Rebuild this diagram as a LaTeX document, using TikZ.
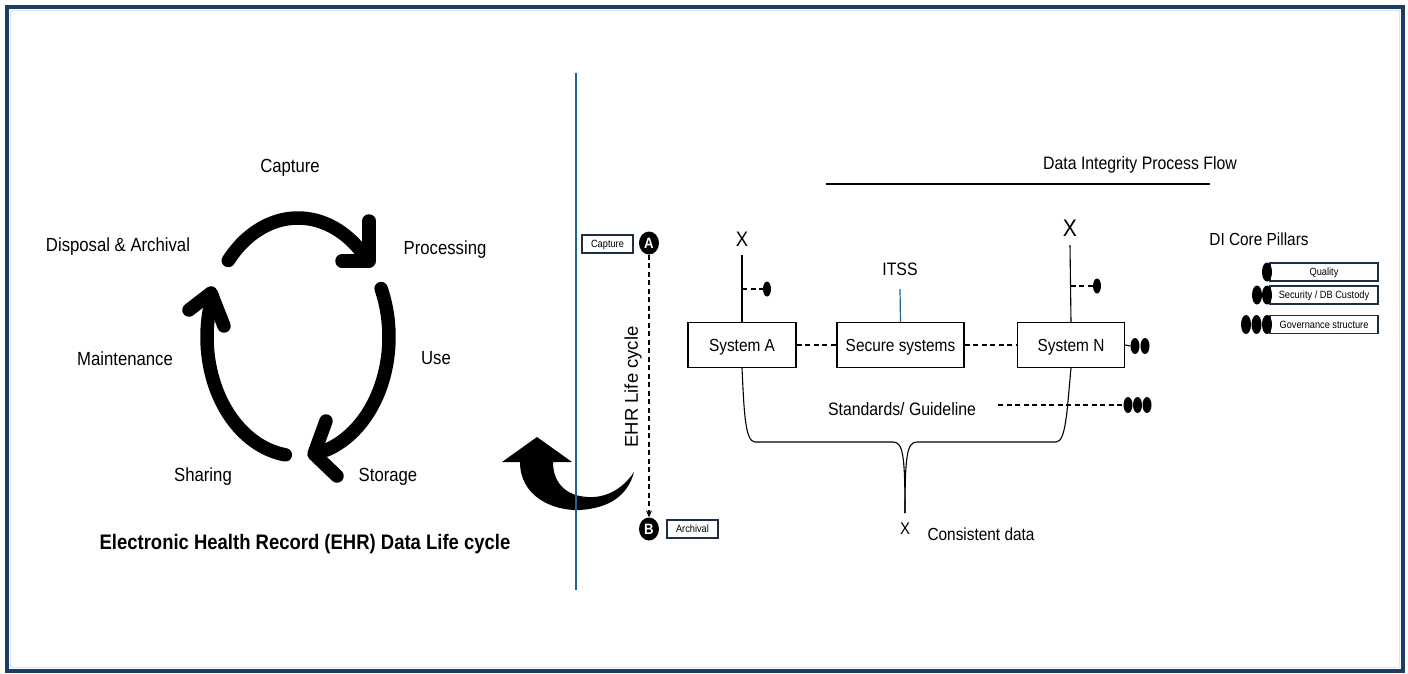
\documentclass[tikz,border=0pt]{standalone}
\usepackage{fontspec}
\setmainfont{Liberation Sans}[FakeStretch=0.88]
\newfontfamily\widefont{Liberation Sans}
\usetikzlibrary{arrows.meta,shapes.geometric}
\definecolor{framecol}{HTML}{1B3E66}
\definecolor{rulecol}{HTML}{21638F}
\definecolor{tagcol}{HTML}{1E2F45}
\newcommand\fsz[1]{\fontsize{#1}{#1}\selectfont}

\begin{document}
\begin{tikzpicture}[x=1pt,y=-1pt,
  lbl/.style={inner sep=0pt, yshift=-2.5pt, font=\fsz{19}},
  txt/.style={inner sep=0pt, yshift=-2pt, font=\fsz{#1}},
  sysbox/.style={draw, line width=1.1pt, minimum width=#1, minimum height=45pt, inner sep=0pt,
    text height=12.5pt, text depth=0pt, font=\fsz{17.5}},
  tagbox/.style={draw=tagcol, line width=1.4pt, minimum width=#1, minimum height=18pt, inner sep=0pt,
    text height=7.5pt, text depth=0pt, font=\fsz{10.5}},
  blob/.style={ellipse, fill=black, inner sep=0pt, minimum width=9pt, minimum height=16pt},
  pblob/.style={blob, minimum width=10pt, minimum height=19pt},
  circ/.style={ellipse, fill=black, inner sep=0pt, minimum width=20pt, minimum height=23pt,
    text=white, font=\fsz{15}\bfseries},
  dline/.style={dash pattern=on 5pt off 3.5pt, line width=1.1pt},
  cyc/.style={line width=13.5pt, line cap=round, line join=round}
]
\useasboundingbox (0,0) rectangle (1408,673);

% outer frame
\draw[framecol!15, line width=0.8pt] (10,10) rectangle (1399.5,667.5);
\draw[framecol, line width=4pt] (7,7) rectangle (1402.5,670.5);

% ---------- EHR data life cycle ----------
\node[lbl] (capL)  at (290,165) {Capture};
\node[lbl] (disp)  at (118,244) {Disposal \& Archival};
\node[lbl] (proc)  at (445,247) {Processing};
\node[lbl] (maint) at (125,356) {Maintenance};
\node[lbl] (use)   at (436,356) {Use};
\node[lbl] (shar)  at (203,474) {Sharing};
\node[lbl] (stor)  at (388,474) {Storage};
\node[inner sep=0pt, yshift=-2.5pt, font=\fsz{21}\bfseries] (title) at (305,542)
  {Electronic Health Record (EHR) Data Life cycle};

% three thick cycle arrows
\draw[cyc] plot[domain=140:47, samples=40] ({298+91*cos(\x)}, {337-119*sin(\x)});
\draw[cyc] (369,221) -- (369,261) -- (342,261);
\draw[cyc] plot[domain=24:-72, samples=40] ({298+91*cos(\x)}, {337-119*sin(\x)});
\draw[cyc] (326,421) -- (314,454) -- (337,476);
\draw[cyc] plot[domain=262:160, samples=40] ({298+91*cos(\x)}, {337-119*sin(\x)});
\draw[cyc] (189,310) -- (211,293) -- (224,326);

% curved return arrow
\fill (537,437) -- (572,462) -- (553,462)
  .. controls (553,482) and (565,496) .. (588,497)
  .. controls (605,498) and (622,490) .. (634,472)
  .. controls (628,495) and (610,508) .. (580,510)
  .. controls (552,511) and (520,496) .. (520,462)
  -- (502,462) -- cycle;

% divider
\coordinate (vtop) at (576,73);
\coordinate (vbot) at (576,590);
\draw[rulecol, line width=2pt] (vtop) -- (vbot);

% EHR life cycle axis
\node[circ] (A) at (649,243) {A};
\node[circ] (B) at (649,529) {B};
\draw[dline, -{Stealth[length=7pt,width=6pt]}] (A) -- (B);
\node[rotate=90, inner sep=0pt, font=\widefont\fsz{18.5}] (ehr) at (633,387) {EHR Life cycle};
\node[tagbox=51pt] (capT) at (607.5,244) {Capture};
\node[tagbox=51pt] (arcT) at (692.5,529) {Archival};

% ---------- Data integrity process flow ----------
\node[txt=18] (dipf) at (1140,163) {Data Integrity Process Flow};
\coordinate (r1) at (826,184);
\coordinate (r2) at (1210,184);
\draw[line width=1.5pt] (r1) -- (r2);

\node[sysbox=108pt] (sa) at (742,345) {System A};
\node[sysbox=127pt] (ss) at (900.5,345) {Secure systems};
\node[sysbox=107pt] (sn) at (1071,345) {System N};
\draw[dline] (sa) -- (ss);
\draw[dline] (ss) -- (sn);

% System A input
\node[txt=21] (xa) at (742,237) {X};
\coordinate (xat) at (742,255);
\draw[line width=1.1pt] (xat) -- (sa.north);
\coordinate (xad) at (742,289);
\node[blob, minimum width=8pt, minimum height=15pt] (da) at (767,289) {};
\draw[dline] (xad) -- (da.west);

% System N input
\node[txt=24] (xn) at (1070,226) {X};
\coordinate (xnt) at (1070,245);
\draw[line width=1.1pt] (xnt) -- (sn.north);
\coordinate (xnd) at (1070.6,286);
\node[blob, minimum width=8pt, minimum height=15pt] (dn) at (1097,286) {};
\draw[dline] (xnd) -- (dn.west);

% ITSS
\node[txt=18] (itss) at (900,267) {ITSS};
\coordinate (it) at (900,289);
\draw[rulecol, line width=1.2pt] (it) -- (ss.north);

% System N pillars
\node[blob] (n1) at (1135,346) {};
\node[blob] (n2) at (1145,346) {};
\draw[line width=1.1pt] (sn.east) -- (n1.west);

% standards
\node[txt=18] (std) at (902,407) {Standards/ Guideline};
\coordinate (sd) at (998,405);
\node[blob] (g1) at (1128,405) {};
\node[blob] (g2) at (1137.5,405) {};
\node[blob] (g3) at (1147,405) {};
\draw[dline] (sd) -- (g1.west);

% brace into consistent data
\coordinate (bc) at (905,513);
\draw[line width=1.1pt] (sa.south) .. controls (744,410) and (745,442) .. (755,442)
  -- (893,442) .. controls (903,442) and (905,455) .. (bc);
\draw[line width=1.1pt] (sn.south) .. controls (1067,410) and (1066,442) .. (1056,442)
  -- (917,442) .. controls (907,442) and (905,455) .. (bc);
\node[txt=17] (xc) at (905,527) {X};
\node[txt=17.5] (cons) at (981,532) {Consistent data};

% ---------- DI core pillars ----------
\node[txt=17.5] (dicp) at (1259,237) {DI Core Pillars};
\node[tagbox=108pt] (q)  at (1324,272) {Quality};
\node[tagbox=108pt] (sc) at (1324,295) {Security / DB Custody};
\node[tagbox=108pt] (gv) at (1324,324.5) {Governance structure};
\node[pblob] (q1) at (1267,272) {};
\node[pblob] (s1) at (1257,295) {};
\node[pblob] (s2) at (1267,295) {};
\node[pblob] (v1) at (1246,324.5) {};
\node[pblob] (v2) at (1256.5,324.5) {};
\node[pblob] (v3) at (1267,324.5) {};
\end{tikzpicture}
\end{document}
